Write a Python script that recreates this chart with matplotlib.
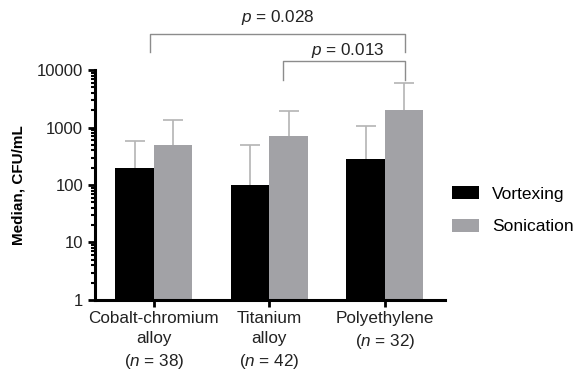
import numpy as np
import matplotlib.pyplot as plt
from matplotlib.ticker import LogLocator, NullFormatter

# Data
materials = ["Cobalt-chromium\nalloy\n($n$ = 38)", "Titanium\nalloy\n($n$ = 42)", "Polyethylene\n($n$ = 32)"]
vortexing = [200, 100, 280]
vortexing_err_top = [590, 500, 1050]
sonication = [500, 700, 2000]
sonication_err_top = [1350, 1950, 5900]
p_values = ["0.028", "0.013"]

plt.rcParams['font.family'] = ['Liberation Sans', 'DejaVu Sans']
plt.rcParams['mathtext.fontset'] = 'custom'
plt.rcParams['mathtext.it'] = 'Liberation Sans:italic'
plt.rcParams['mathtext.rm'] = 'Liberation Sans'

fig = plt.figure(figsize=(5.82, 3.71), dpi=100)
ax = fig.add_axes([0.1632, 0.1914, 0.6014, 0.6199])

x = np.arange(len(materials))
w = 0.333

ax.bar(x - w / 2, vortexing, w, color='black', label='Vortexing', zorder=2)
ax.bar(x + w / 2, sonication, w, color='#a2a2a6', label='Sonication', zorder=2)

# upper-only error bars
for xs, vals, tops in [(x - w / 2, vortexing, vortexing_err_top),
                       (x + w / 2, sonication, sonication_err_top)]:
    err = [np.zeros(3), np.array(tops) - np.array(vals)]
    _, caps, _ = ax.errorbar(xs, vals, yerr=err, fmt='none', ecolor='#b4b4b4',
                             elinewidth=1.2, capsize=7, capthick=1.2, zorder=1)
    caps[0].set_visible(False)

ax.set_yscale('log')
ax.set_ylim(1, 10000)
ax.set_xlim(-0.51, 2.52)
ax.set_yticks([1, 10, 100, 1000, 10000])
ax.set_yticklabels(["1", "10", "100", "1000", "10000"])
ax.yaxis.set_minor_locator(LogLocator(base=10, subs=np.arange(2, 10), numticks=20))
ax.yaxis.set_minor_formatter(NullFormatter())
ax.set_xticks(x)
ax.set_xticklabels(materials, fontsize=12.3, color='#222222', linespacing=1.4)
ax.tick_params(axis='y', labelsize=12, labelcolor='#222222', width=2, length=5)
ax.tick_params(axis='y', which='minor', width=1.5, length=3)
ax.tick_params(axis='x', width=2, length=5, pad=3)

for s in ['top', 'right']:
    ax.spines[s].set_visible(False)
for s in ['left', 'bottom']:
    ax.spines[s].set_linewidth(2.2)

ax.set_ylabel("Median, CFU/mL", fontsize=11, fontweight='bold', labelpad=8)

# Significance brackets
def bracket(x0, x1, y, ydrop, text, tx, ty):
    ax.plot([x0, x0, x1, x1], [10 ** ydrop, 10 ** y, 10 ** y, 10 ** ydrop],
            color='#8c8c8c', lw=1, clip_on=False)
    ax.text(tx, 10 ** ty, "$p$ = " + text, ha='center', va='bottom', fontsize=12.3,
            color='#222222')

bracket(-0.03, 2.17, 4.626, 4.31, p_values[0], 1.07, 4.74)
bracket(1.12, 2.17, 4.157, 3.826, p_values[1], 1.68, 4.18)

ax.legend(loc='center left', bbox_to_anchor=(1.02, 0.39), frameon=False,
          fontsize=12.5, handlelength=1.55, handleheight=0.75, handletextpad=0.75,
          labelspacing=1.0, borderaxespad=0, borderpad=0)

plt.savefig("out.png", dpi=100)
